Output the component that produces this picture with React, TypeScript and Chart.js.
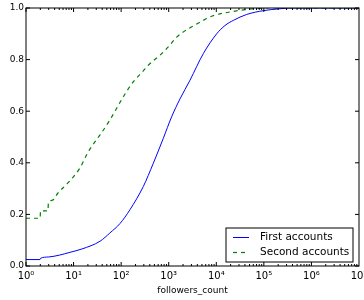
import React, { useEffect, useRef } from "react";
import { Chart, registerables } from "chart.js";

Chart.register(...registerables);

const firstX = [1, 1.97, 2.03, 3, 5, 8.4, 15, 36, 58, 95, 153, 292, 474, 770, 1150, 1730, 2800, 5330, 10200, 15200, 22800, 43600, 100000, 218000, 355000, 1e7];
const firstY = [0.025, 0.025, 0.03, 0.035, 0.042, 0.053, 0.066, 0.096, 0.128, 0.165, 0.218, 0.308, 0.398, 0.495, 0.578, 0.648, 0.72, 0.823, 0.90, 0.932, 0.952, 0.975, 0.99, 0.997, 1.0, 1.0];

const secondX = [1, 1.98, 2.02, 2.9, 2.95, 3.6, 4.7, 7.6, 13.6, 20, 24, 36, 58, 111, 180, 292, 372, 711, 980, 1470, 4550, 8500, 20000, 59000, 96000, 1e7];
const secondY = [0.185, 0.185, 0.214, 0.214, 0.244, 0.255, 0.283, 0.322, 0.38, 0.44, 0.463, 0.508, 0.566, 0.656, 0.714, 0.756, 0.778, 0.823, 0.849, 0.887, 0.945, 0.97, 0.985, 0.997, 1.0, 1.0];

const seriesNames = ["First accounts", "Second accounts"];
const xTickLabels: Record<number, string> = {
  0: "10⁰", 1: "10¹", 2: "10²", 3: "10³", 4: "10⁴", 5: "10⁵", 6: "10⁶", 7: "10⁷",
};
const yTicks = [0, 0.2, 0.4, 0.6, 0.8, 1.0];
const xTitle = "followers_count";

const BLUE = "#0000ff";
const GREEN = "#008000";
const FONT = "'DejaVu Sans', sans-serif";

const framePlugin = {
  id: "frameTicksLegend",
  afterDraw(chart: any) {
    const ctx = chart.ctx;
    const { left, right, top, bottom } = chart.chartArea;
    const xs = chart.scales.x;
    const ys = chart.scales.y;
    ctx.save();
    ctx.strokeStyle = "#000";
    ctx.lineWidth = 1;
    ctx.beginPath();
    for (let d = 0; d < 7; d++) {
      for (let k = 1; k <= 9; k++) {
        const v = k * Math.pow(10, d);
        const px = xs.getPixelForValue(v);
        const len = k === 1 ? 4 : 2;
        ctx.moveTo(px, bottom);
        ctx.lineTo(px, bottom - len);
        ctx.moveTo(px, top);
        ctx.lineTo(px, top + len);
      }
    }
    for (const t of yTicks) {
      const py = ys.getPixelForValue(t);
      ctx.moveTo(left, py);
      ctx.lineTo(left + 4, py);
      ctx.moveTo(right, py);
      ctx.lineTo(right - 4, py);
    }
    ctx.stroke();
    ctx.strokeRect(left, top, right - left, bottom - top);

    // legend
    const bx = 226, by = 228, bw = 127, bh = 34;
    ctx.fillStyle = "#fff";
    ctx.fillRect(bx, by, bw, bh);
    ctx.strokeStyle = "#000";
    ctx.lineWidth = 1;
    ctx.strokeRect(bx, by, bw, bh);
    const rows = [
      { y: 237.5, color: BLUE, dash: [] as number[], w: 1, name: seriesNames[0] },
      { y: 252.5, color: GREEN, dash: [4, 4], w: 1.2, name: seriesNames[1] },
    ];
    ctx.font = "10.5px " + FONT;
    ctx.textBaseline = "middle";
    ctx.textAlign = "left";
    for (const r of rows) {
      ctx.beginPath();
      ctx.setLineDash(r.dash);
      ctx.strokeStyle = r.color;
      ctx.lineWidth = r.w;
      ctx.moveTo(233, r.y);
      ctx.lineTo(249, r.y);
      ctx.stroke();
      ctx.setLineDash([]);
      ctx.fillStyle = "#000";
      ctx.fillText(r.name, 260, r.y);
    }
    ctx.restore();
  },
};

export default function App() {
  const ref = useRef<HTMLCanvasElement>(null);
  useEffect(() => {
    document.body.style.margin = "0";
    const canvas = ref.current!;
    const chart = new Chart(canvas, {
      type: "line",
      data: {
        datasets: [
          {
            label: seriesNames[0],
            data: firstX.map((x, i) => ({ x, y: firstY[i] })),
            borderColor: BLUE,
            borderWidth: 1,
            pointRadius: 0,
            cubicInterpolationMode: "monotone",
            fill: false,
          },
          {
            label: seriesNames[1],
            data: secondX.map((x, i) => ({ x, y: secondY[i] })),
            borderColor: GREEN,
            borderWidth: 1.2,
            borderDash: [4, 4],
            pointRadius: 0,
            cubicInterpolationMode: "monotone",
            fill: false,
          },
        ],
      },
      options: {
        animation: false,
        responsive: false,
        devicePixelRatio: 1,
        layout: { padding: { left: 0, top: 8, right: 5, bottom: 0 } },
        plugins: { legend: { display: false }, tooltip: { enabled: false } },
        scales: {
          x: {
            type: "logarithmic",
            min: 1,
            max: 1e7,
            grid: { display: false, drawTicks: false },
            border: { display: false },
            ticks: {
              autoSkip: false,
              maxRotation: 0,
              padding: 4,
              color: "#000",
              font: { family: FONT, size: 10 },
              callback: (v: any) => {
                const l = Math.log10(Number(v));
                const r = Math.round(l);
                return Math.abs(l - r) < 1e-9 ? xTickLabels[r] ?? "" : "";
              },
            },
            title: {
              display: true,
              text: xTitle,
              color: "#000",
              font: { family: FONT, size: 9 },
              padding: { top: 2, bottom: 4 },
            },
            afterFit: (s: any) => {
              s.height = 34;
              s.paddingLeft = 0;
              s.paddingRight = 0;
            },
          },
          y: {
            min: 0,
            max: 1,
            grid: { display: false, drawTicks: false },
            border: { display: false },
            ticks: {
              stepSize: 0.2,
              padding: 2,
              color: "#000",
              font: { family: FONT, size: 9 },
              callback: (v: any) => Number(v).toFixed(1),
            },
            afterFit: (s: any) => {
              s.width = 26;
              s.paddingTop = 0;
              s.paddingBottom = 0;
            },
          },
        },
      },
      plugins: [framePlugin],
    } as any);
    return () => chart.destroy();
  }, []);
  return (
    <div style={{ position: "absolute", left: 0, top: 0, width: 364, height: 300 }}>
      <canvas ref={ref} width={364} height={300} />
    </div>
  );
}
